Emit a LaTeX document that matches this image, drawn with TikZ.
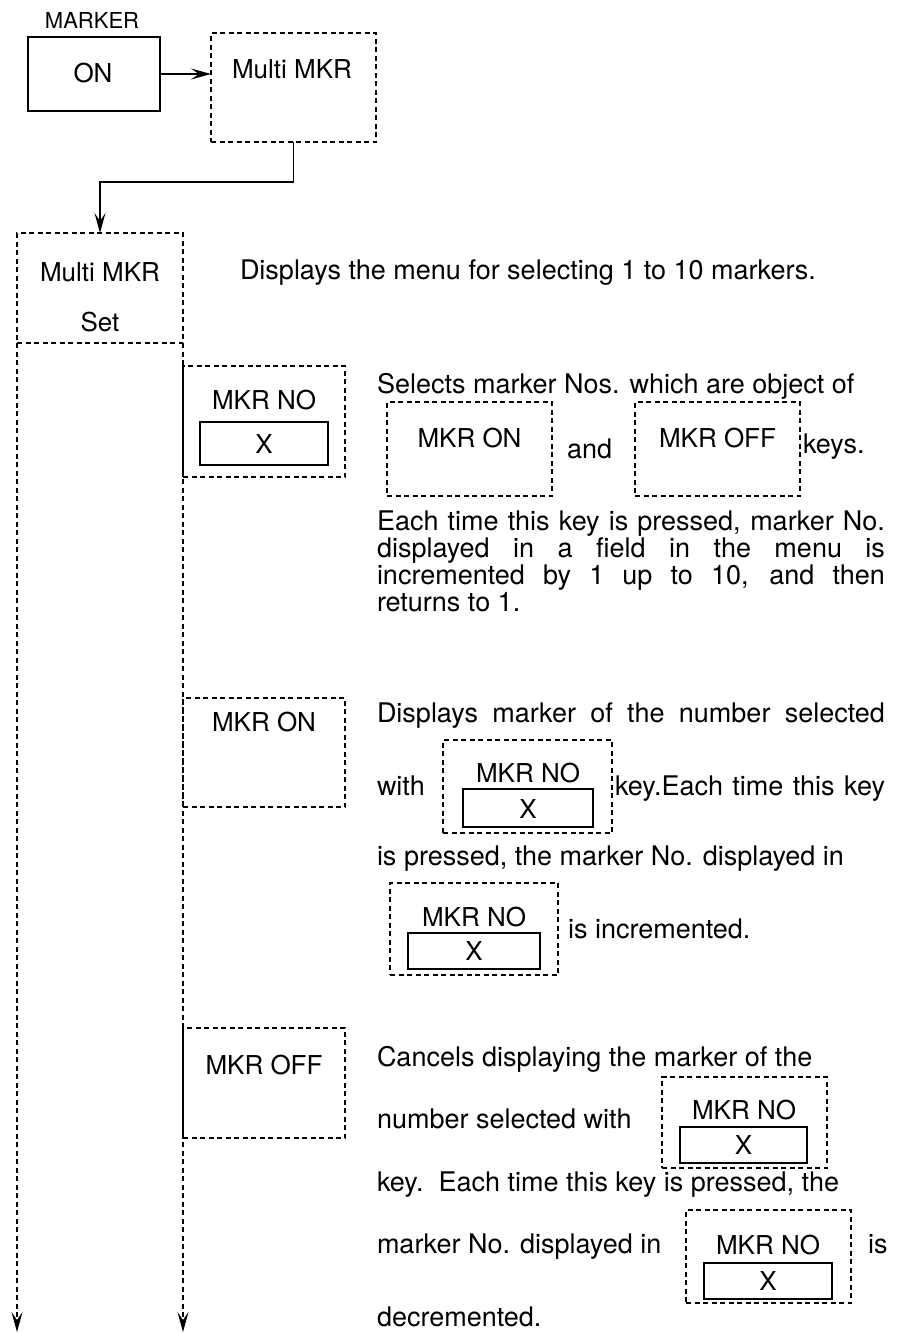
\documentclass[tikz,border=0pt]{standalone}
\usepackage{fontspec}
\setmainfont{TeX Gyre Heros}
\usetikzlibrary{arrows.meta}
\begin{document}
\begin{tikzpicture}[x=1pt,y=-1pt,
  every node/.style={inner sep=0pt, outer sep=0pt},
  txt/.style={font=\fontsize{27}{27}\selectfont, anchor=base west},
  ctxt/.style={font=\fontsize{26}{26}\selectfont, anchor=base},
  dbox/.style={draw, rectangle, dash pattern=on 5pt off 3.5pt, line width=1.3pt},
  sbox/.style={draw, rectangle, line width=1.6pt},
  arr/.style={-{Stealth[length=20pt,width=11pt,inset=8pt]}},
  sline/.style={line width=1.5pt},
  dline/.style={dash pattern=on 5pt off 3.5pt, line width=1.3pt},
]
\useasboundingbox (0,0) rectangle (906,1333);

% ---- top part
\node[ctxt, font=\fontsize{22}{22}\selectfont] (marker) at (92,28) {MARKER};
\node[sbox, minimum width=132pt, minimum height=74pt] (on) at (94,74) {};
\node[ctxt] (ontxt) at (93,82) {ON};
\node[dbox, minimum width=165pt, minimum height=109pt] (mm) at (293.5,87.5) {};
\node[ctxt] (mmtxt) at (292,78) {Multi MKR};
\draw[sline, arr] (on.east) -- (on.east -| mm.west);

\node[dbox, minimum width=166pt, minimum height=110pt] (mms) at (100,288) {};
\node[ctxt] (mmstxt) at (100,281) {Multi MKR};
\node[ctxt] (settxt) at (100,331) {Set};
\draw[sline, arr] (mm.south) -- ++(0,40) -| (mms.north);

\coordinate (endL) at (17,1332);
\coordinate (endR) at (183,1332);
\draw[dline, arr] (mms.south west) -- (endL);
\draw[dline, arr] (mms.south east) -- (endR);

\node[txt] (menu) at (240,279) {Displays the menu for selecting 1 to 10 markers.};

% ---- MKR NO key
\node[dbox, minimum width=162pt, minimum height=111pt] (kno) at (264,421.5) {};
\node[ctxt] (knotxt) at (264,409) {MKR NO};
\node[sbox, minimum width=128pt, minimum height=43pt] (knox) at (264,443.5) {};
\node[ctxt] (knoxt) at (264,453) {X};

\node[txt] (sel) at (377,393) {Selects marker Nos. which are object of};
\node[dbox, minimum width=165pt, minimum height=94pt] (ion) at (469.5,449) {};
\node[ctxt] (iontxt) at (469.5,447) {MKR ON};
\node[txt] (and) at (567,458) {and};
\node[dbox, minimum width=165pt, minimum height=94pt] (ioff) at (717.5,449) {};
\node[ctxt] (iofftxt) at (717.5,447) {MKR OFF};
\node[txt] (keys) at (803,453) {keys.};

\node[txt] (p1) at (377,530) {\makebox[508pt][s]{Each time this key is pressed, marker No.}};
\node[txt] (p2) at (377,557) {\makebox[508pt][s]{displayed in a field in the menu is}};
\node[txt] (p3) at (377,584) {\makebox[508pt][s]{incremented by 1 up to 10, and then}};
\node[txt] (p4) at (377,611) {returns to 1.};

% ---- MKR ON key
\node[dbox, minimum width=162pt, minimum height=109pt] (kon) at (264,752.5) {};
\node[ctxt] (kontxt) at (264,731) {MKR ON};

\node[txt] (q1) at (377,722) {\makebox[508pt][s]{Displays marker of the number selected}};
\node[txt] (q2) at (377,795) {with};
\node[dbox, minimum width=169pt, minimum height=93pt] (no1) at (527.5,786.5) {};
\node[ctxt] (no1t) at (528,782) {MKR NO};
\node[sbox, minimum width=130pt, minimum height=38pt] (no1x) at (528,808) {};
\node[ctxt] (no1xt) at (528,818) {X};
\node[txt] (q3) at (615,795) {\makebox[270pt][s]{key.Each time this key}};
\node[txt] (q4) at (377,865) {is pressed, the marker No. displayed in};
\node[dbox, minimum width=168pt, minimum height=92pt] (no2) at (474,929) {};
\node[ctxt] (no2t) at (474,926) {MKR NO};
\node[sbox, minimum width=132pt, minimum height=36pt] (no2x) at (474,951) {};
\node[ctxt] (no2xt) at (474,960) {X};
\node[txt] (q5) at (568,938) {is incremented.};

% ---- MKR OFF key
\node[dbox, minimum width=162pt, minimum height=110pt] (koff) at (264,1083) {};
\node[ctxt] (kofftxt) at (264,1074) {MKR OFF};

\node[txt] (r1) at (377,1066) {Cancels displaying the marker of the};
\node[txt] (r2) at (377,1128) {number selected with};
\node[dbox, minimum width=165pt, minimum height=91pt] (no3) at (744.5,1122.5) {};
\node[ctxt] (no3t) at (744,1119) {MKR NO};
\node[sbox, minimum width=127pt, minimum height=36pt] (no3x) at (743.5,1145) {};
\node[ctxt] (no3xt) at (743.5,1154) {X};
\node[txt] (r3) at (377,1191) {key.\ \ Each time this key is pressed, the};
\node[txt] (r4) at (377,1253) {marker No. displayed in};
\node[dbox, minimum width=165pt, minimum height=93pt] (no4) at (768.5,1256.5) {};
\node[ctxt] (no4t) at (768,1254) {MKR NO};
\node[sbox, minimum width=128pt, minimum height=36pt] (no4x) at (768,1281) {};
\node[ctxt] (no4xt) at (768,1290) {X};
\node[txt] (r5) at (868,1253) {is};
\node[txt] (r6) at (377,1326) {decremented.};
\end{tikzpicture}
\end{document}
